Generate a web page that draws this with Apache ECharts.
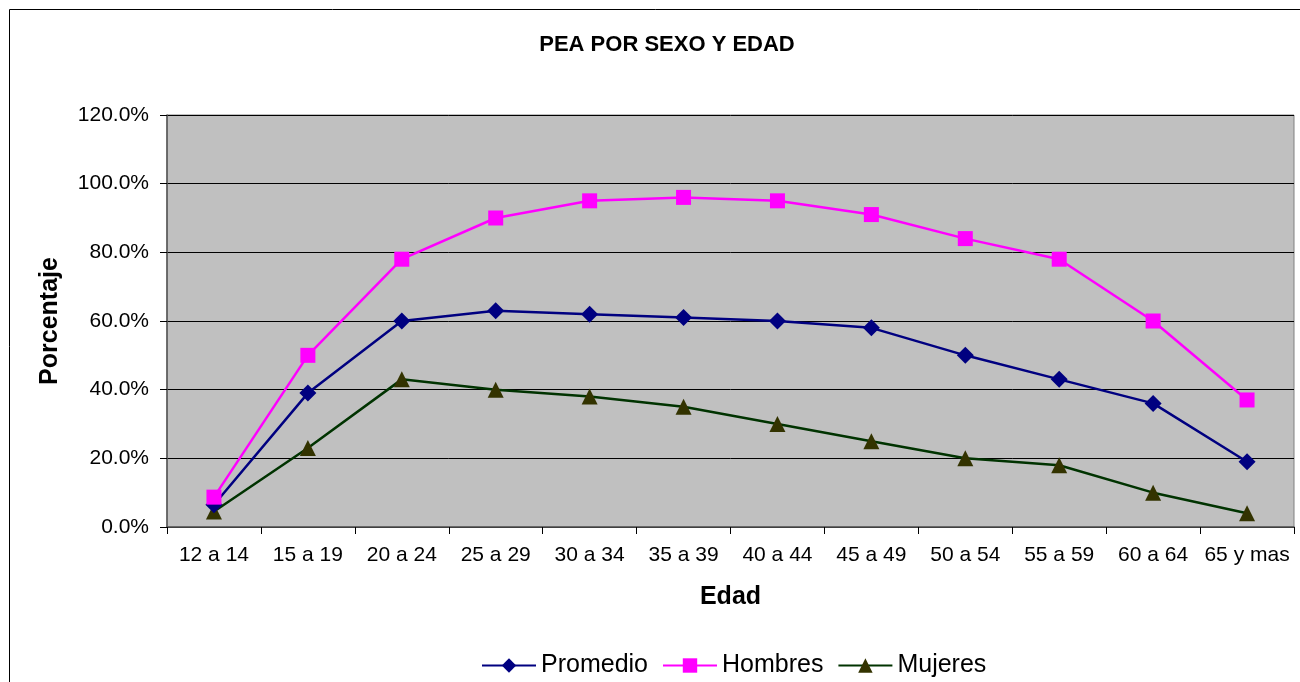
<!DOCTYPE html>
<html>
<head>
<meta charset="utf-8">
<script src="https://cdn.jsdelivr.net/npm/echarts@6/dist/echarts.min.js"></script>
<style>
  html, body { margin: 0; padding: 0; background: #fff; }
  #chart { width: 1300px; height: 682px; }
</style>
</head>
<body>
<div id="chart"></div>
<script>
// Age groups and participation rates (%)
const categories = ['12 a 14', '15 a 19', '20 a 24', '25 a 29', '30 a 34', '35 a 39',
  '40 a 44', '45 a 49', '50 a 54', '55 a 59', '60 a 64', '65 y mas'];
const promedio = [6.5, 39, 60, 63, 62, 61, 60, 58, 50, 43, 36, 19];
const hombres = [8.7, 50, 78, 90, 95, 96, 95, 91, 84, 78, 60, 37];
const mujeres = [4.5, 23, 43, 40, 38, 35, 30, 25, 20, 18, 10, 4];
const yTicks = [0, 20, 40, 60, 80, 100, 120];

const font = 'Liberation Sans, Arial, sans-serif';
const chart = echarts.init(document.getElementById('chart'));

chart.setOption({
  backgroundColor: '#fff',
  animation: false,
  textStyle: { fontFamily: font },
  graphic: [{
    type: 'rect',
    shape: { x: 9.5, y: 9.5, width: 1300, height: 700 },
    style: { fill: 'none', stroke: '#000', lineWidth: 1 },
    silent: true
  }],
  title: {
    text: 'PEA POR SEXO Y EDAD',
    left: 662, top: 29, textAlign: 'center',
    textStyle: { fontSize: 22, fontWeight: 'bold', color: '#000', fontFamily: font }
  },
  legend: {
    top: 648, left: 476,
    itemWidth: 54, itemHeight: 18, itemGap: 14,
    textStyle: { fontSize: 25, color: '#000', fontFamily: font },
    data: ['Promedio', 'Hombres', 'Mujeres']
  },
  grid: { left: 167, right: 6, top: 115, bottom: 155, show: true, backgroundColor: '#c0c0c0', borderColor: '#808080', borderWidth: 1 },
  xAxis: {
    type: 'category',
    data: categories,
    boundaryGap: true,
    name: 'Edad', nameLocation: 'middle', nameGap: 58,
    nameTextStyle: { fontSize: 25, fontWeight: 'bold', color: '#000', fontFamily: font },
    axisLine: { lineStyle: { color: '#555', width: 1.5 } },
    axisTick: { show: true, length: 7, lineStyle: { color: '#000' } },
    axisLabel: { fontSize: 21, color: '#000', margin: 18, interval: 0 }
  },
  yAxis: {
    type: 'value',
    min: yTicks[0], max: yTicks[yTicks.length - 1], interval: 20,
    name: 'Porcentaje', nameLocation: 'middle', nameGap: 104,
    nameTextStyle: { fontSize: 25, fontWeight: 'bold', color: '#000', fontFamily: font },
    axisLine: { show: true, lineStyle: { color: '#555', width: 1.5 } },
    axisTick: { show: true, length: 7, lineStyle: { color: '#000' } },
    axisLabel: { fontSize: 21, color: '#000', margin: 18, formatter: v => v.toFixed(1) + '%' },
    splitLine: { lineStyle: { color: '#000', width: 1 } }
  },
  series: [
    {
      name: 'Promedio', type: 'line', data: promedio,
      symbol: 'diamond', symbolSize: 17,
      lineStyle: { color: '#000080', width: 2.5 },
      itemStyle: { color: '#000080' }, z: 3
    },
    {
      name: 'Hombres', type: 'line', data: hombres,
      symbol: 'rect', symbolSize: 15,
      lineStyle: { color: '#ff00ff', width: 2.5 },
      itemStyle: { color: '#ff00ff' }, z: 4
    },
    {
      name: 'Mujeres', type: 'line', data: mujeres,
      symbol: 'triangle', symbolSize: 16,
      lineStyle: { color: '#003300', width: 2.5 },
      itemStyle: { color: '#333300' }, z: 2
    }
  ]
});
</script>
</body>
</html>
